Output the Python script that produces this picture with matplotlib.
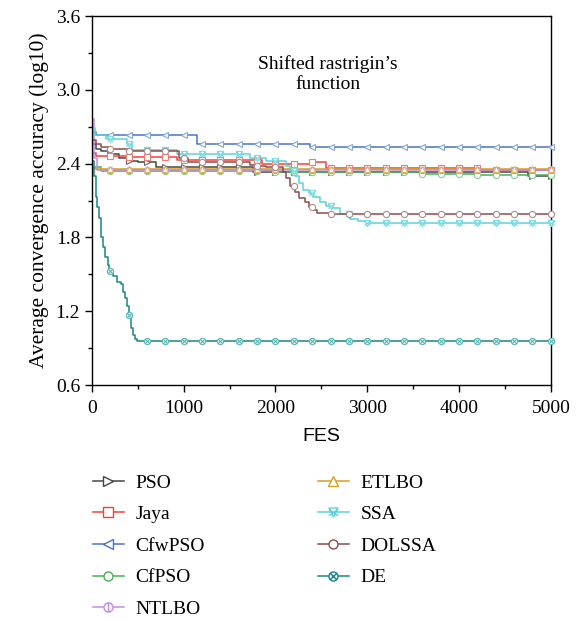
# -*- coding: utf-8 -*-
"""
Convergence curves on the shifted rastrigin's function
"""

# imports
import numpy as np
import matplotlib
matplotlib.use("Agg")
import matplotlib.pyplot as plt
from matplotlib.path import Path
from matplotlib.lines import Line2D


# Global Values
labels = ['PSO', 'Jaya', 'CfwPSO', 'CfPSO', 'NTLBO', 'ETLBO', 'SSA', 'DOLSSA', 'DE']

# step curves: FES where the value changes, and the value from there on
pso_fes = [0, 50, 100, 200, 300, 400, 500, 700, 1750, 4750]
pso_val = [2.56, 2.52, 2.50, 2.48, 2.45, 2.425, 2.41, 2.37, 2.33, 2.30]

jaya_fes = [0, 50, 400, 930, 1850, 2400, 2550, 4230]
jaya_val = [2.49, 2.465, 2.455, 2.43, 2.40, 2.415, 2.365, 2.345]

cfwpso_fes = [0, 50, 1150, 2380]
cfwpso_val = [2.655, 2.63, 2.56, 2.535]

cfpso_fes = [0, 100, 2000, 3600, 4200]
cfpso_val = [2.37, 2.34, 2.33, 2.32, 2.31]

ntlbo_fes = [0, 20, 60]
ntlbo_val = [2.76, 2.45, 2.35]

etlbo_fes = [0, 3000]
etlbo_val = [2.36, 2.355]

ssa_fes = [0, 30, 150, 380, 440, 930, 1720, 1900, 2120, 2160, 2210, 2260,
           2300, 2360, 2410, 2480, 2550, 2620, 2700, 2810, 2900, 3000]
ssa_val = [2.69, 2.63, 2.60, 2.56, 2.515, 2.48, 2.45, 2.425, 2.38, 2.34, 2.30, 2.24,
           2.19, 2.16, 2.13, 2.09, 2.06, 2.04, 1.99, 1.95, 1.93, 1.915]

dolssa_fes = [0, 50, 100, 200, 400, 950, 1050, 1720, 1800, 1900, 2080, 2120,
              2160, 2210, 2260, 2320, 2370, 2410, 2450, 2600]
dolssa_val = [2.59, 2.56, 2.535, 2.52, 2.50, 2.45, 2.41, 2.39, 2.38, 2.37, 2.33, 2.28,
              2.22, 2.17, 2.12, 2.085, 2.05, 2.025, 2.00, 1.99]

de_fes = [0, 20, 40, 60, 80, 100, 120, 145, 170, 190, 230, 270, 320, 340, 360,
          380, 400, 430, 450, 470, 490]
de_val = [2.42, 2.30, 2.13, 2.05, 1.96, 1.80, 1.72, 1.64, 1.58, 1.53, 1.49, 1.435,
          1.42, 1.36, 1.31, 1.24, 1.17, 1.06, 1.01, 0.975, 0.955]

max_fes = 5000
marker_fes = np.arange(200, max_fes + 1, 200)


# Custom markers
def compoundMarker(*parts):
    return Path.make_compound_path(*parts)

seg = lambda a, b: Path([a, b], [Path.MOVETO, Path.LINETO])
circle_bar = compoundMarker(Path.unit_circle(), seg([0, -1], [0, 1]))
circle_x = compoundMarker(Path.unit_circle(),
                          seg([-0.707, -0.707], [0.707, 0.707]),
                          seg([-0.707, 0.707], [0.707, -0.707]))
tri_x = compoundMarker(Path([[-1, 1], [1, 1], [0, -1], [-1, 1]],
                            [Path.MOVETO, Path.LINETO, Path.LINETO, Path.CLOSEPOLY]),
                       seg([-1, -0.7], [1, 0.7]), seg([-1, 0.7], [1, -0.7]))

# line colour, marker edge colour, marker
styles = [
    ('#454545', '#6a6a6a', '>'),
    ('#f2413a', '#f47a72', 's'),
    ('#4a74c4', '#86a6dc', '<'),
    ('#45b155', '#88cf92', 'o'),
    ('#c58be0', '#c58be0', circle_bar),
    ('#d4a020', '#ddb860', '^'),
    ('#5cd2d8', '#7adde2', tri_x),
    ('#8c4b4b', '#b08a8a', 'o'),
    ('#1d8585', '#5cb5b5', circle_x),
]

series = [(pso_fes, pso_val), (jaya_fes, jaya_val), (cfwpso_fes, cfwpso_val),
          (cfpso_fes, cfpso_val), (ntlbo_fes, ntlbo_val), (etlbo_fes, etlbo_val),
          (ssa_fes, ssa_val), (dolssa_fes, dolssa_val), (de_fes, de_val)]


# value of a step curve at given FES
def stepValue(fes, val, at):
    idx = np.searchsorted(fes, at, side='right') - 1
    return np.asarray(val)[idx]


def main():
    plt.rcParams['font.family'] = 'Liberation Serif'
    plt.rcParams['font.size'] = 14

    fig = plt.figure(figsize=(5.78, 6.21), dpi=100)
    ax = fig.add_axes([0.159, 0.380, 0.794, 0.594])

    handles = []
    for (fes, val), (col, mcol, mk), lab in zip(series, styles, labels):
        x = list(fes) + [max_fes]
        y = list(val) + [val[-1]]
        ax.plot(x, y, drawstyle='steps-post', color=col, lw=1.1, zorder=2)
        ax.plot(marker_fes, stepValue(fes, val, marker_fes), ls='none', marker=mk,
                ms=4.5, mfc='white', mec=mcol, mew=0.8, zorder=3, clip_on=False)
        handles.append(Line2D([], [], color=col, lw=1.1, marker=mk, ms=6.5,
                              mfc='white', mec=col, mew=1.0))

    # Axes
    ax.set_xlim(0, max_fes)
    ax.set_ylim(0.6, 3.6)
    ax.set_xticks(np.arange(0, 5001, 1000))
    ax.set_xticks(np.arange(500, 5000, 1000), minor=True)
    ax.set_yticks(np.arange(0.6, 3.61, 0.6))
    ax.set_yticks(np.arange(0.9, 3.6, 0.6), minor=True)
    ax.yaxis.set_major_formatter(matplotlib.ticker.FormatStrFormatter('%.1f'))
    ax.tick_params(which='major', direction='out', length=5, width=1)
    ax.tick_params(axis='x', which='major', pad=6)
    ax.tick_params(which='minor', direction='out', length=3, width=1)
    for sp in ax.spines.values():
        sp.set_linewidth(1.0)

    ax.set_xlabel('FES', labelpad=8, family='Liberation Sans')
    ax.set_ylabel('Average convergence accuracy (log10)', labelpad=5, fontsize=15.5)
    ax.text(2570, 3.13, 'Shifted rastrigin\u2019s\nfunction', ha='center', va='center',
            linespacing=1.25)

    # Legend
    fig.legend(handles, labels, ncol=2, loc='upper left', bbox_to_anchor=(0.13, 0.265),
               frameon=False, handlelength=1.6, labelspacing=0.72, columnspacing=5.8,
               handletextpad=0.6)

    plt.savefig('out.png', dpi=100)


if __name__ == "__main__":
    main()
